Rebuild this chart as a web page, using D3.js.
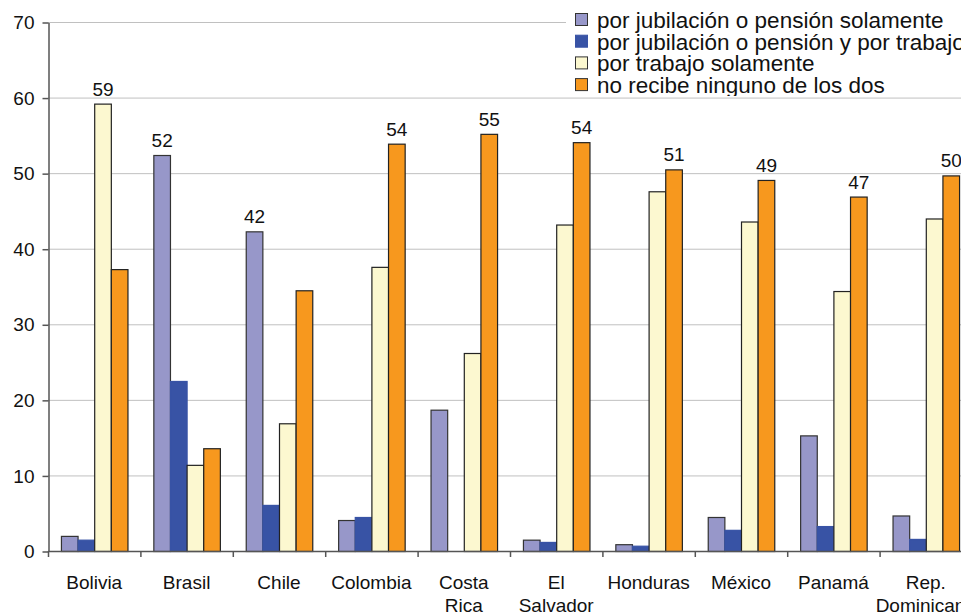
<!DOCTYPE html>
<html>
<head>
<meta charset="utf-8">
<script src="https://cdn.jsdelivr.net/npm/d3@7"></script>
<style>
  html, body { margin: 0; padding: 0; background: #fff; overflow: hidden; }
  svg { display: block; font-family: "Liberation Sans", Arial, sans-serif; }
</style>
</head>
<body>
<svg id="chart" width="961" height="612"></svg>
<script>
// ---- Data ----
const categories = [
  ["Bolivia"], ["Brasil"], ["Chile"], ["Colombia"], ["Costa", "Rica"],
  ["El", "Salvador"], ["Honduras"], ["México"], ["Panamá"], ["Rep.", "Dominicana"]
];
const seriesNames = [
  "por jubilación o pensión solamente",
  "por jubilación o pensión y por trabajo",
  "por trabajo solamente",
  "no recibe ninguno de los dos"
];
const pensionSolo   = [2.0, 52.4, 42.3, 4.1, 18.7, 1.5, 0.9, 4.5, 15.3, 4.7];
const pensionTrabajo = [1.5, 22.5, 6.1, 4.5, 0.0, 1.2, 0.7, 2.8, 3.3, 1.6];
const trabajoSolo   = [59.2, 11.4, 16.9, 37.6, 26.2, 43.2, 47.6, 43.6, 34.4, 44.0];
const ninguno       = [37.3, 13.6, 34.5, 53.9, 55.2, 54.1, 50.5, 49.1, 46.9, 49.7];
const yTicks = [0, 10, 20, 30, 40, 50, 60, 70];

const seriesValues = [pensionSolo, pensionTrabajo, trabajoSolo, ninguno];
const colors = ["#9797c9", "#3853a5", "#fcf8d0", "#f7981e"];
const strokes = ["#333", "#3853a5", "#222", "#222"];

// ---- Layout ----
const svg = d3.select("#chart");
const mLeft = 48, mRight = 972, mTop = 22, mBottom = 551;

const x0 = d3.scaleBand()
  .domain(d3.range(categories.length))
  .range([mLeft, mRight])
  .paddingInner(0.28)
  .paddingOuter(0.14);
const x1 = d3.scaleBand()
  .domain(d3.range(seriesValues.length))
  .range([0, x0.bandwidth()])
  .padding(0);
const y = d3.scaleLinear().domain([0, 70]).range([mBottom, mTop]);

// gridlines
svg.append("g")
  .selectAll("line")
  .data(yTicks.filter(d => d > 0))
  .join("line")
  .attr("x1", mLeft).attr("x2", mRight)
  .attr("y1", d => y(d) + 0.5).attr("y2", d => y(d) + 0.5)
  .attr("stroke", "#c0c0c0").attr("stroke-width", 1);

// bars
const groups = svg.append("g")
  .selectAll("g")
  .data(categories.map((c, i) => i))
  .join("g")
  .attr("transform", i => `translate(${x0(i)},0)`);

groups.selectAll("rect")
  .data(i => seriesValues.map((s, k) => ({ k, v: s[i] })).filter(d => d.v > 0))
  .join("rect")
  .attr("x", d => x1(d.k) + 0.5)
  .attr("width", x1.bandwidth())
  .attr("y", d => y(d.v) + 0.5)
  .attr("height", d => y(0) - y(d.v))
  .attr("fill", d => colors[d.k])
  .attr("stroke", d => strokes[d.k])
  .attr("stroke-width", 1.2);

// value labels (max of each group)
groups.append("text")
  .each(function (i) {
    const vals = seriesValues.map(s => s[i]);
    const k = vals.indexOf(d3.max(vals));
    d3.select(this)
      .attr("x", x1(k) + x1.bandwidth() / 2 + 0.5)
      .attr("y", y(vals[k]) - 8)
      .text(Math.round(vals[k]));
  })
  .attr("text-anchor", "middle")
  .attr("font-size", 19)
  .attr("fill", "#111");

// y axis
const yAxis = d3.axisLeft(y).tickValues(yTicks).tickSize(6).tickSizeOuter(0).tickPadding(8);
const gy = svg.append("g").attr("transform", `translate(${mLeft + 0.5},0.5)`).call(yAxis);
gy.select(".domain").attr("stroke", "#555").attr("stroke-width", 1.5);
gy.selectAll(".tick line").attr("stroke", "#555").attr("stroke-width", 1.5);
gy.selectAll(".tick text").attr("font-size", 19).attr("fill", "#111")
  .attr("font-family", "Liberation Sans, Arial, sans-serif");

// x axis
const xEdges = d3.range(categories.length + 1).map(i => mLeft + i * x0.step());
const gx = svg.append("g");
gx.append("line")
  .attr("x1", mLeft).attr("x2", mRight)
  .attr("y1", mBottom + 0.5).attr("y2", mBottom + 0.5)
  .attr("stroke", "#555").attr("stroke-width", 1.5);
gx.selectAll("line.tk")
  .data(xEdges)
  .join("line").attr("class", "tk")
  .attr("x1", d => d + 0.5).attr("x2", d => d + 0.5)
  .attr("y1", mBottom).attr("y2", mBottom + 6)
  .attr("stroke", "#555").attr("stroke-width", 1.5);

gx.selectAll("text.cat")
  .data(categories)
  .join("text").attr("class", "cat")
  .attr("text-anchor", "middle")
  .attr("font-size", 19)
  .attr("fill", "#111")
  .attr("transform", (d, i) => `translate(${x0(i) + x0.bandwidth() / 2},589)`)
  .selectAll("tspan")
  .data(d => d)
  .join("tspan")
  .attr("x", 0)
  .attr("dy", (d, j) => j === 0 ? 0 : 23)
  .text(d => d);

// legend
const defs = svg.append("defs");
defs.append("clipPath").attr("id", "legclip")
  .append("rect").attr("x", 560).attr("y", 0).attr("width", 420).attr("height", 96);
const leg = svg.append("g").attr("clip-path", "url(#legclip)");
leg.append("rect").attr("x", 566).attr("y", 0).attr("width", 420).attr("height", 97).attr("fill", "#fff");
const li = leg.selectAll("g").data(seriesNames).join("g")
  .attr("transform", (d, i) => `translate(575,${13 + i * 21.7})`);
li.append("rect")
  .attr("x", 0.5).attr("y", 0.5).attr("width", 12).attr("height", 12)
  .attr("fill", (d, i) => colors[i])
  .attr("stroke", (d, i) => i === 1 ? colors[1] : "#333");
li.append("text")
  .attr("x", 22).attr("y", 15)
  .attr("font-size", 22.5)
  .attr("fill", "#111")
  .text(d => d);
</script>
</body>
</html>
